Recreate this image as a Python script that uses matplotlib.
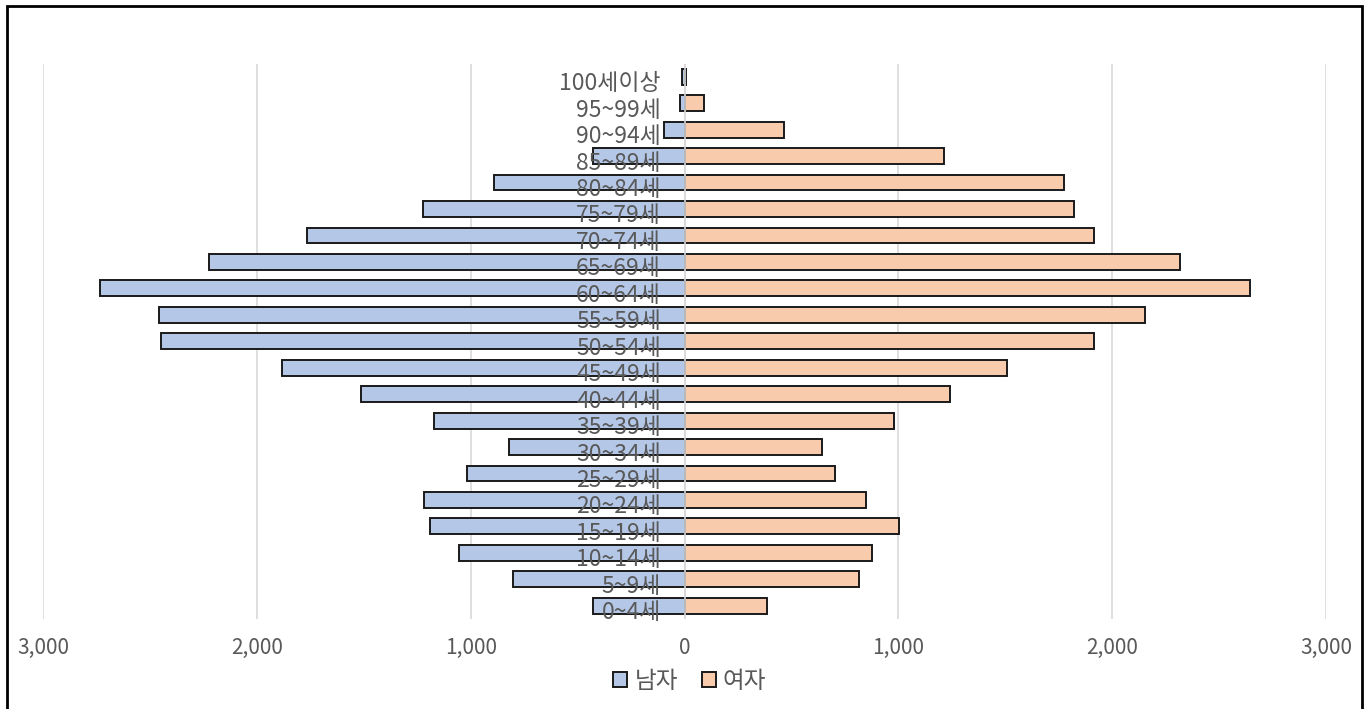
import matplotlib
matplotlib.use('Agg')
import matplotlib.pyplot as plt
from matplotlib.patches import Patch, Rectangle
from matplotlib.ticker import FuncFormatter
import numpy as np

plt.rcParams['font.family'] = ['Noto Sans CJK KR', 'DejaVu Sans']

### data (bottom to top)
ages = ['0~4세', '5~9세', '10~14세', '15~19세', '20~24세', '25~29세', '30~34세',
        '35~39세', '40~44세', '45~49세', '50~54세', '55~59세', '60~64세', '65~69세',
        '70~74세', '75~79세', '80~84세', '85~89세', '90~94세', '95~99세', '100세이상']
male = [426, 801, 1054, 1190, 1218, 1016, 820, 1171, 1513, 1883, 2450,
        2459, 2735, 2222, 1766, 1225, 893, 430, 98, 23, 10]
female = [384, 814, 879, 1001, 851, 702, 641, 982, 1240, 1506, 1915,
          2155, 2646, 2318, 1915, 1822, 1775, 1213, 463, 89, 8]
ticks = [-3000, -2000, -1000, 0, 1000, 2000, 3000]

male_col = '#B4C7E7'
female_col = '#F8CBAD'
gray = '#595959'

fig = plt.figure(figsize=(13.66, 7.09), dpi=100)
ax = fig.add_axes([43/1366, 1 - 619/709, (1326 - 43)/1366, (619 - 63.5)/709])

y = np.arange(len(ages))
ax.barh(y, [-m for m in male], height=0.6, color=male_col, edgecolor='#1a1a1a',
        linewidth=1.4, zorder=2)
ax.barh(y, female, height=0.6, color=female_col, edgecolor='#1a1a1a',
        linewidth=1.4, zorder=2)

ax.set_xlim(-3000, 3000)
ax.set_ylim(-0.5, len(ages) - 0.5)
ax.set_xticks(ticks)
ax.xaxis.set_major_formatter(FuncFormatter(lambda v, p: f'{abs(int(v)):,}'))
ax.tick_params(axis='x', length=0, pad=13, labelsize=15, labelcolor=gray)
ax.set_yticks([])
ax.grid(axis='x', color='#D9D9D9', linewidth=1.2, zorder=0)
ax.axvline(0, color='#D9D9D9', linewidth=1.2, zorder=3)
for s in ax.spines.values():
    s.set_visible(False)

# age labels sit on top of the bars, left of zero
for i, lab in enumerate(ages):
    ax.annotate(lab, xy=(0, i), xytext=(-17, -5), textcoords='offset points',
                ha='right', va='center', fontsize=16.5, color=gray, zorder=4)

handles = [Patch(facecolor=male_col, edgecolor='#1a1a1a', linewidth=1.4, label='남자'),
           Patch(facecolor=female_col, edgecolor='#1a1a1a', linewidth=1.4, label='여자')]
leg = fig.legend(handles=handles, loc='center', bbox_to_anchor=(0.505, 1 - 681/709),
                 ncol=2, frameon=False, fontsize=17, handlelength=0.6, handleheight=0.6,
                 handletextpad=0.3, columnspacing=1.0)
for t in leg.get_texts():
    t.set_color(gray)

# outer frame
fig.add_artist(Rectangle((7/1366, -0.02), (1362 - 7)/1366, 1 - 6/709 + 0.02,
                         transform=fig.transFigure, fill=False, edgecolor='black',
                         linewidth=2))

fig.savefig('out.png', dpi=100)
